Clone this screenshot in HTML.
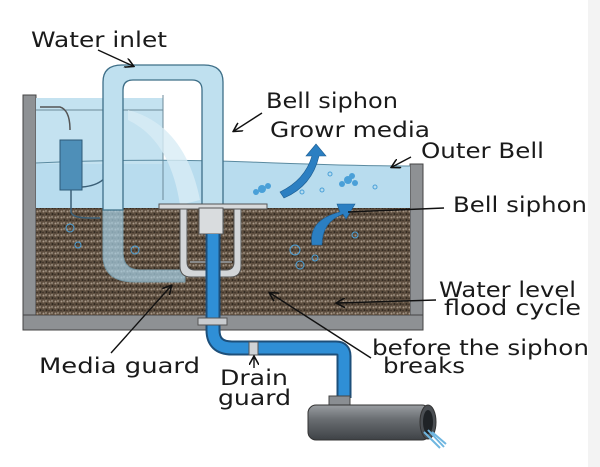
<!DOCTYPE html>
<html><head><meta charset="utf-8"><style>
html,body{margin:0;padding:0;background:#fff;width:600px;height:467px;overflow:hidden}
svg text{font-family:"DejaVu Sans","Liberation Sans",sans-serif;fill:#1a1a1a;font-size:21px}
</style></head><body>
<svg width="600" height="467" viewBox="0 0 600 467" xmlns="http://www.w3.org/2000/svg">
<defs>
<pattern id="grav" width="6" height="6" patternUnits="userSpaceOnUse">
<rect width="6" height="6" fill="#5e4f40"/>
<circle cx="1.5" cy="1.5" r="1" fill="#a89888"/><circle cx="4.5" cy="4" r="1" fill="#2e261e"/>
<circle cx="4" cy="1" r="0.7" fill="#c8bcae"/><circle cx="1" cy="4.5" r="0.8" fill="#3a2f25"/>
</pattern>
<linearGradient id="gp" x1="0" y1="0" x2="0" y2="1"><stop offset="0" stop-color="#9a9ea2"/><stop offset="0.4" stop-color="#6a6e72"/><stop offset="1" stop-color="#3e4246"/></linearGradient>
<marker id="ah" markerWidth="10" markerHeight="10" refX="8" refY="5" orient="auto" markerUnits="userSpaceOnUse"><path d="M0,0 L9,5 L0,10" fill="none" stroke="#111" stroke-width="1.6"/></marker>
</defs>
<rect x="588" y="0" width="12" height="467" fill="#f3f3f3"/>
<rect x="23" y="95" width="13" height="235" fill="#8e9194" stroke="#444" stroke-width="1"/>
<rect x="410" y="164" width="13" height="166" fill="#8e9194" stroke="#444" stroke-width="1"/>
<rect x="23" y="315" width="400" height="15" fill="#8e9194" stroke="#444" stroke-width="1"/>
<path d="M36,163 Q150,158 250,162 T410,166 L410,208 L36,208 Z" fill="#b8dcee"/>
<rect x="36" y="98" width="127" height="66" fill="#c4e2f0"/>
<line x1="36" y1="110" x2="163" y2="110" stroke="#6b8a99" stroke-width="1"/>
<line x1="163" y1="95" x2="163" y2="200" stroke="#6b8a99" stroke-width="1"/>
<path d="M36,163 Q150,158 250,162 T410,166" fill="none" stroke="#5a8aa0" stroke-width="1"/>
<rect x="36" y="208" width="374" height="107" fill="url(#grav)"/>
<path d="M128,110 Q185,125 200,200 L180,205 Q170,140 128,120 Z" fill="#d8ecf5" opacity="0.8"/>
<path d="M40,107 L60,107 Q70,110 70,130" fill="none" stroke="#555" stroke-width="1.5"/>
<rect x="60" y="140" width="22" height="50" fill="#4e8fb8" stroke="#2d5a77"/>
<path d="M71,190 L71,212 Q72,218 90,218 L100,218" fill="none" stroke="#3a5f77" stroke-width="1.5"/>
<path d="M82,187 Q110,185 112,160 L112,148" fill="none" stroke="#3a5f77" stroke-width="1.5"/>
<path d="M103,205 L103,255 Q103,282 135,282 L185,282 L185,270 L140,270 Q123,270 123,252 L123,205 Z" fill="#a9d3e8" opacity="0.7" stroke="#7fb3cc"/>
<path d="M103,210 L103,82 Q103,65 122,65 L204,65 Q223,65 223,82 L223,233 L202,233 L202,90 Q202,80 192,80 L133,80 Q123,80 123,90 L123,210 Z" fill="#bfe0ef" stroke="#3e6f88" stroke-width="1.3"/>
<rect x="159" y="204" width="108" height="5" fill="#d7d9db" stroke="#555"/>
<path d="M180,209 L180,266 Q180,277 191,277 L230,277 Q241,277 241,266 L241,209 L234,209 L234,262 Q234,270 226,270 L195,270 Q187,270 187,262 L187,209 Z" fill="#d3d6d9" stroke="#555"/>
<rect x="199" y="208" width="24" height="26" fill="#d9dcde" stroke="#555"/>
<line x1="190" y1="262" x2="232" y2="262" stroke="#888" stroke-width="2"/>
<path d="M213,234 L213,330 Q213,348 232,348 L336,348 Q344,348 344,356 L344,398" fill="none" stroke="#1d4f7a" stroke-width="15"/>
<path d="M213,234 L213,330 Q213,348 232,348 L336,348 Q344,348 344,356 L344,398" fill="none" stroke="#2f8fd6" stroke-width="11"/>
<rect x="198" y="318" width="29" height="7" fill="#c9cccf" stroke="#555"/>
<rect x="249" y="342" width="9" height="13" fill="#d0d3d6" stroke="#555"/>
<rect x="329" y="396" width="21" height="12" fill="#8a8e92" stroke="#444"/>
<rect x="308" y="405" width="122" height="35" rx="8" fill="url(#gp)" stroke="#333"/>
<ellipse cx="428" cy="422" rx="8" ry="17" fill="#4b4f53" stroke="#333"/>
<ellipse cx="428" cy="422" rx="5" ry="12" fill="#1f2326"/>
<path d="M424,432 L440,448 M428,430 L444,447 M432,432 L446,444" stroke="#6fb6e0" stroke-width="2"/>
<path d="M280,192 Q305,180 312,156 L306,156 L316,144 L326,156 L319,156 Q312,186 284,198 Z" fill="#2b7fc2" stroke="#1c5d92" stroke-width="0.6"/>
<path d="M312,245 Q308,220 340,212 L337,204 L355,204 L346,219 L343,214 Q322,222 322,245 Z" fill="#2b7fc2" stroke="#1c5d92" stroke-width="0.6"/>
<g fill="#4aa0d8"><circle cx="262" cy="189" r="4"/><circle cx="268" cy="186" r="3"/><circle cx="256" cy="192" r="3"/><circle cx="348" cy="180" r="4"/><circle cx="355" cy="183" r="3"/><circle cx="342" cy="184" r="3"/><circle cx="352" cy="176" r="3"/></g>
<g fill="none" stroke="#4aa0d8" stroke-width="1"><circle cx="302" cy="192" r="2"/><circle cx="330" cy="174" r="2"/><circle cx="375" cy="187" r="2"/><circle cx="322" cy="190" r="2"/><circle cx="295" cy="250" r="5"/><circle cx="300" cy="265" r="4"/><circle cx="315" cy="258" r="3"/><circle cx="70" cy="228" r="4"/><circle cx="78" cy="245" r="3"/><circle cx="135" cy="250" r="4"/><circle cx="355" cy="235" r="3"/></g>
<g stroke="#111" stroke-width="1.4" fill="none">
<line x1="98" y1="50" x2="133" y2="66" marker-end="url(#ah)"/>
<line x1="262" y1="113" x2="234" y2="131" marker-end="url(#ah)"/>
<line x1="411" y1="157" x2="392" y2="167" marker-end="url(#ah)"/>
<line x1="444" y1="208" x2="348" y2="212"/>
<line x1="436" y1="300" x2="337" y2="303" marker-end="url(#ah)"/>
<line x1="371" y1="358" x2="270" y2="293" marker-end="url(#ah)"/>
<line x1="111" y1="353" x2="171" y2="286" marker-end="url(#ah)"/>
<line x1="254" y1="368" x2="254" y2="357" marker-end="url(#ah)"/>
</g>
<g>
<text x="31" y="47" textLength="136" lengthAdjust="spacingAndGlyphs">Water inlet</text>
<text x="266" y="108" textLength="132" lengthAdjust="spacingAndGlyphs">Bell siphon</text>
<text x="270" y="137" textLength="160" lengthAdjust="spacingAndGlyphs">Growr media</text>
<text x="421" y="158" textLength="123" lengthAdjust="spacingAndGlyphs">Outer Bell</text>
<text x="453" y="212" textLength="134" lengthAdjust="spacingAndGlyphs">Bell siphon</text>
<text x="439" y="297" textLength="137" lengthAdjust="spacingAndGlyphs">Water level</text>
<text x="444" y="315" textLength="137" lengthAdjust="spacingAndGlyphs">flood cycle</text>
<text x="372" y="355" textLength="217" lengthAdjust="spacingAndGlyphs">before the siphon</text>
<text x="383" y="373" textLength="82" lengthAdjust="spacingAndGlyphs">breaks</text>
<text x="39" y="373" textLength="161" lengthAdjust="spacingAndGlyphs">Media guard</text>
<text x="220" y="385" textLength="68" lengthAdjust="spacingAndGlyphs">Drain</text>
<text x="218" y="405" textLength="73" lengthAdjust="spacingAndGlyphs">guard</text>
</g>
</svg>
</body></html>
